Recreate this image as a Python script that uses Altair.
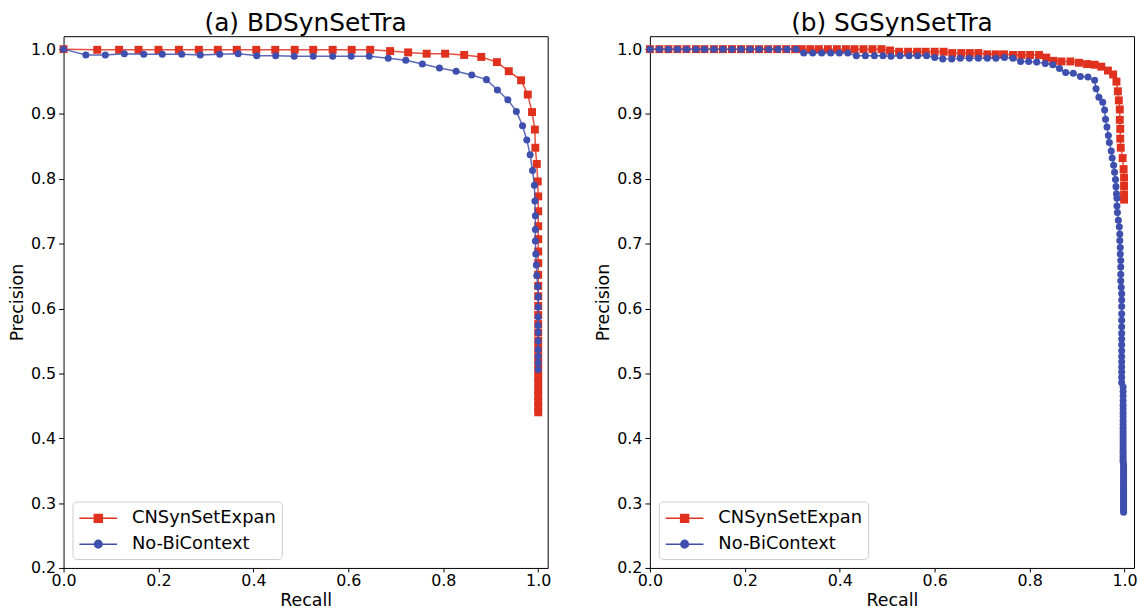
import altair as alt
import pandas as pd

methods = ["CNSynSetExpan", "No-BiContext"]
colors = ["#e0301e", "#3f4fae"]
titles = ["(a) BDSynSetTra", "(b) SGSynSetTra"]
x_ticks = [0.0, 0.2, 0.4, 0.6, 0.8, 1.0]
y_ticks = [0.2, 0.3, 0.4, 0.5, 0.6, 0.7, 0.8, 0.9, 1.0]

# ---- panel (a) BDSynSetTra ----
a_red_recall = [0.0, 0.071, 0.117, 0.158, 0.200, 0.243, 0.285, 0.325, 0.365, 0.406,
                0.446, 0.487, 0.526, 0.567, 0.607, 0.646, 0.688, 0.726, 0.765, 0.804,
                0.844, 0.880, 0.913, 0.938, 0.964, 0.978, 0.987, 0.993, 0.994, 0.997,
                0.999, 1.0, 1.0, 1.0, 1.0, 1.0, 1.0, 1.0, 1.0, 1.0,
                1.0, 1.0, 1.0, 1.0, 1.0, 1.0, 1.0, 1.0, 1.0, 1.0,
                1.0, 1.0, 1.0, 1.0, 1.0, 1.0]
a_red_precision = [1.0, 0.999, 0.999, 0.999, 0.999, 0.999, 0.999, 0.999, 0.999, 0.999,
                   0.999, 0.999, 0.999, 0.999, 0.999, 0.999, 0.997, 0.995, 0.993, 0.993,
                   0.991, 0.988, 0.980, 0.966, 0.952, 0.930, 0.903, 0.876, 0.848, 0.823,
                   0.796, 0.773, 0.750, 0.727, 0.707, 0.688, 0.670, 0.652, 0.635, 0.619,
                   0.604, 0.590, 0.576, 0.563, 0.550, 0.538, 0.526, 0.515, 0.504, 0.494,
                   0.484, 0.474, 0.465, 0.456, 0.448, 0.440]
a_blue_recall = [0.0, 0.047, 0.088, 0.128, 0.169, 0.208, 0.249, 0.288, 0.329, 0.368,
                 0.407, 0.447, 0.486, 0.526, 0.567, 0.606, 0.644, 0.684, 0.721, 0.756,
                 0.792, 0.827, 0.860, 0.891, 0.914, 0.936, 0.954, 0.967, 0.976, 0.983,
                 0.988, 0.992, 0.993, 0.994, 0.994, 0.994, 0.995, 0.996, 0.997, 0.999,
                 1.0, 1.0, 1.0, 1.0, 1.0, 1.0, 1.0, 1.0, 1.0, 1.0]
a_blue_precision = [1.0, 0.991, 0.991, 0.993, 0.992, 0.992, 0.992, 0.991, 0.992, 0.993,
                    0.990, 0.990, 0.989, 0.989, 0.989, 0.989, 0.989, 0.986, 0.983, 0.977,
                    0.971, 0.966, 0.960, 0.953, 0.937, 0.922, 0.904, 0.882, 0.860, 0.837,
                    0.813, 0.790, 0.766, 0.743, 0.722, 0.704, 0.684, 0.667, 0.651, 0.634,
                    0.618, 0.602, 0.587, 0.574, 0.563, 0.550, 0.537, 0.526, 0.516, 0.506]

# ---- panel (b) SGSynSetTra ----
b_red_recall = [0.0, 0.020, 0.039, 0.058, 0.077, 0.097, 0.115, 0.135, 0.154, 0.173,
                0.192, 0.211, 0.230, 0.249, 0.268, 0.287, 0.306, 0.320, 0.338, 0.356,
                0.375, 0.394, 0.413, 0.431, 0.450, 0.469, 0.488, 0.506,
                0.525, 0.544, 0.563, 0.581, 0.600, 0.619, 0.637, 0.656, 0.674, 0.692,
                0.711, 0.729, 0.746, 0.765, 0.783, 0.801, 0.820, 0.835, 0.850, 0.867,
                0.886, 0.904, 0.921, 0.937, 0.951, 0.965, 0.976, 0.983,
                0.986, 0.988, 0.990, 0.990, 0.991, 0.991, 0.992, 0.996, 0.998, 0.999,
                0.999, 0.999, 0.999]
b_red_precision = [1.0, 1.0, 1.0, 1.0, 1.0, 1.0, 1.0, 1.0, 1.0, 1.0,
                   1.0, 1.0, 1.0, 1.0, 1.0, 1.0, 1.0, 1.0, 1.0, 1.0,
                   1.0, 1.0, 1.0, 1.0, 1.0, 1.0, 1.0, 0.998,
                   0.996, 0.996, 0.996, 0.996, 0.996, 0.996, 0.994, 0.994, 0.994, 0.994,
                   0.992, 0.992, 0.992, 0.991, 0.991, 0.991, 0.991, 0.987, 0.982, 0.981,
                   0.981, 0.979, 0.977, 0.976, 0.973, 0.967, 0.961, 0.950,
                   0.935, 0.921, 0.907, 0.891, 0.877, 0.862, 0.848, 0.832, 0.815, 0.802,
                   0.789, 0.776, 0.768]
b_blue_recall = [0.0, 0.020, 0.039, 0.058, 0.077, 0.097, 0.115, 0.135, 0.154, 0.173,
                 0.192, 0.211, 0.230, 0.251, 0.270, 0.289, 0.308,
                 0.324, 0.343, 0.362, 0.381, 0.399, 0.417,
                 0.435, 0.454, 0.473, 0.491, 0.508,
                 0.527, 0.546, 0.564, 0.583, 0.600, 0.617, 0.636, 0.654, 0.673, 0.692,
                 0.711, 0.729, 0.747, 0.765, 0.781, 0.798, 0.815, 0.833, 0.849, 0.863,
                 0.876, 0.892, 0.907, 0.923, 0.937,
                 0.940, 0.946, 0.954, 0.958, 0.960, 0.963, 0.966, 0.968, 0.972, 0.974,
                 0.977, 0.979, 0.981, 0.982, 0.983, 0.984, 0.984, 0.985, 0.987, 0.989,
                 0.990, 0.990, 0.991, 0.991, 0.992, 0.992, 0.992, 0.992, 0.993, 0.994,
                 0.994, 0.994, 0.994,
                 0.994, 0.994, 0.994, 0.994, 0.994, 0.994, 0.994, 0.994, 0.994, 0.994,
                 0.994, 0.994,
                 0.997, 0.997, 0.997, 0.997, 0.997, 0.997, 0.997, 0.997, 0.997, 0.997,
                 0.997, 0.997, 0.997, 0.997, 0.997, 0.997, 0.997, 0.997, 0.997, 0.997,
                 0.997, 0.997,
                 0.998, 0.998, 0.998, 0.998, 0.998, 0.998, 0.998, 0.998, 0.998, 0.998,
                 0.998, 0.998, 0.998, 0.998, 0.998, 0.998, 0.998, 0.998, 0.998, 0.998,
                 0.998, 0.998, 0.998, 0.998]
b_blue_precision = [1.0, 1.0, 1.0, 1.0, 1.0, 1.0, 1.0, 1.0, 1.0, 1.0,
                    1.0, 1.0, 1.0, 1.0, 1.0, 1.0, 1.0,
                    0.994, 0.994, 0.994, 0.994, 0.994, 0.994,
                    0.990, 0.990, 0.990, 0.990, 0.989,
                    0.990, 0.990, 0.990, 0.990, 0.987, 0.985, 0.985, 0.986, 0.986, 0.986,
                    0.986, 0.986, 0.987, 0.986, 0.981, 0.981, 0.980, 0.978, 0.976, 0.970,
                    0.964, 0.963, 0.958, 0.957, 0.952,
                    0.939, 0.926, 0.918, 0.906, 0.892, 0.880, 0.867, 0.856, 0.843, 0.832,
                    0.821, 0.810, 0.799, 0.788, 0.777, 0.770, 0.758, 0.748, 0.736, 0.726,
                    0.715, 0.705, 0.694, 0.684, 0.674, 0.664, 0.653, 0.643, 0.633, 0.623,
                    0.613, 0.603, 0.592,
                    0.582, 0.572, 0.562, 0.553, 0.544, 0.535, 0.526, 0.518, 0.510, 0.502,
                    0.494, 0.486,
                    0.479, 0.472, 0.465, 0.458, 0.451, 0.445, 0.439, 0.433, 0.427, 0.421,
                    0.415, 0.410, 0.405, 0.400, 0.395, 0.390, 0.385, 0.380, 0.376, 0.372,
                    0.368, 0.364,
                    0.360, 0.356, 0.352, 0.348, 0.344, 0.340, 0.337, 0.334, 0.331, 0.328,
                    0.325, 0.322, 0.319, 0.316, 0.313, 0.310, 0.307, 0.304, 0.301, 0.298,
                    0.295, 0.292, 0.289, 0.286]

series = [
    (0, methods[0], a_red_recall, a_red_precision),
    (0, methods[1], a_blue_recall, a_blue_precision),
    (1, methods[0], b_red_recall, b_red_precision),
    (1, methods[1], b_blue_recall, b_blue_precision),
]
rows = []
for panel, m, rs, ps in series:
    assert len(rs) == len(ps), (panel, m, len(rs), len(ps))
    for i, (r, p) in enumerate(zip(rs, ps)):
        rows.append({"panel": panel, "method": m, "idx": i, "recall": r, "precision": p})
df = pd.DataFrame(rows)

FONT = "DejaVu Sans"
color_scale = alt.Scale(domain=methods, range=colors)
# legend glyphs: a short line with the marker in its middle (unit = 10 px)
sq_path = "M-1,0L2.8,0M0.5,-0.4L1.3,-0.4L1.3,0.4L0.5,0.4Z"
ci_path = "M-1,0L2.8,0M1.28,0A0.38,0.38,0,1,1,0.52,0A0.38,0.38,0,1,1,1.28,0Z"
shape_scale = alt.Scale(domain=methods, range=[sq_path, ci_path])

xenc = alt.X("recall:Q", title="Recall",
             scale=alt.Scale(domain=[0, 1.02], nice=False, zero=False, padding=0),
             axis=alt.Axis(values=x_ticks, format=".1f", labelFlush=False,
                           tickSize=4, labelPadding=1, titlePadding=3))
yenc = alt.Y("precision:Q", title="Precision",
             scale=alt.Scale(domain=[0.2, 1.02], nice=False, zero=False, padding=0),
             axis=alt.Axis(values=y_ticks, format=".1f", labelFlush=False))


def panel_chart(k):
    base = alt.Chart(df).transform_filter(alt.datum.panel == k)
    layers = []
    for m, c, shp, size in [(methods[0], colors[0], "square", 64), (methods[1], colors[1], "circle", 50)]:
        sub = base.transform_filter(alt.datum.method == m)
        layers.append(sub.mark_line(strokeWidth=1.5, color=c, opacity=0.85).encode(
            x=xenc, y=yenc, order="idx:Q"))
        layers.append(sub.mark_point(shape=shp, filled=True, size=size, color=c, opacity=1).encode(
            x=xenc, y=yenc))
    leg = alt.Legend(title=None, orient="bottom-left", offset=9,
                     strokeColor="#cccccc", fillColor="white", padding=6, cornerRadius=4,
                     labelFontSize=18, labelFont=FONT, labelColor="black",
                     symbolSize=400, symbolStrokeWidth=1.5, rowPadding=6, labelOffset=32)
    legend_layer = base.transform_filter("datum.precision > 5").mark_point(
        filled=True, strokeWidth=1.5, opacity=1).encode(
        x=xenc, y=yenc,
        color=alt.Color("method:N", scale=color_scale, legend=leg),
        shape=alt.Shape("method:N", scale=shape_scale, legend=leg),
        stroke=alt.Stroke("method:N", scale=color_scale, legend=None),
    )
    layers.append(legend_layer)
    return alt.layer(*layers).properties(
        width=488, height=536,
        title=alt.TitleParams(titles[k], fontSize=25, font=FONT, fontWeight="normal",
                              anchor="middle", offset=0, color="black"),
    )


chart = alt.hconcat(panel_chart(0), panel_chart(1), spacing=43).resolve_scale(
    color="independent", shape="independent", stroke="independent"
).resolve_legend(color="independent", shape="independent", stroke="independent").properties(
    padding={"left": 0, "top": 0, "right": 0, "bottom": 0}
).configure_view(
    stroke="black", strokeWidth=1
).configure_axis(
    grid=False, domain=False, tickColor="black", tickSize=5, tickWidth=1,
    labelFont=FONT, labelFontSize=16, labelColor="black", labelPadding=3,
    titleFont=FONT, titleFontSize=17.5, titleFontWeight="normal", titleColor="black",
    titlePadding=4,
)

chart.save("out.html", embed_options={"renderer": "svg", "actions": False})
